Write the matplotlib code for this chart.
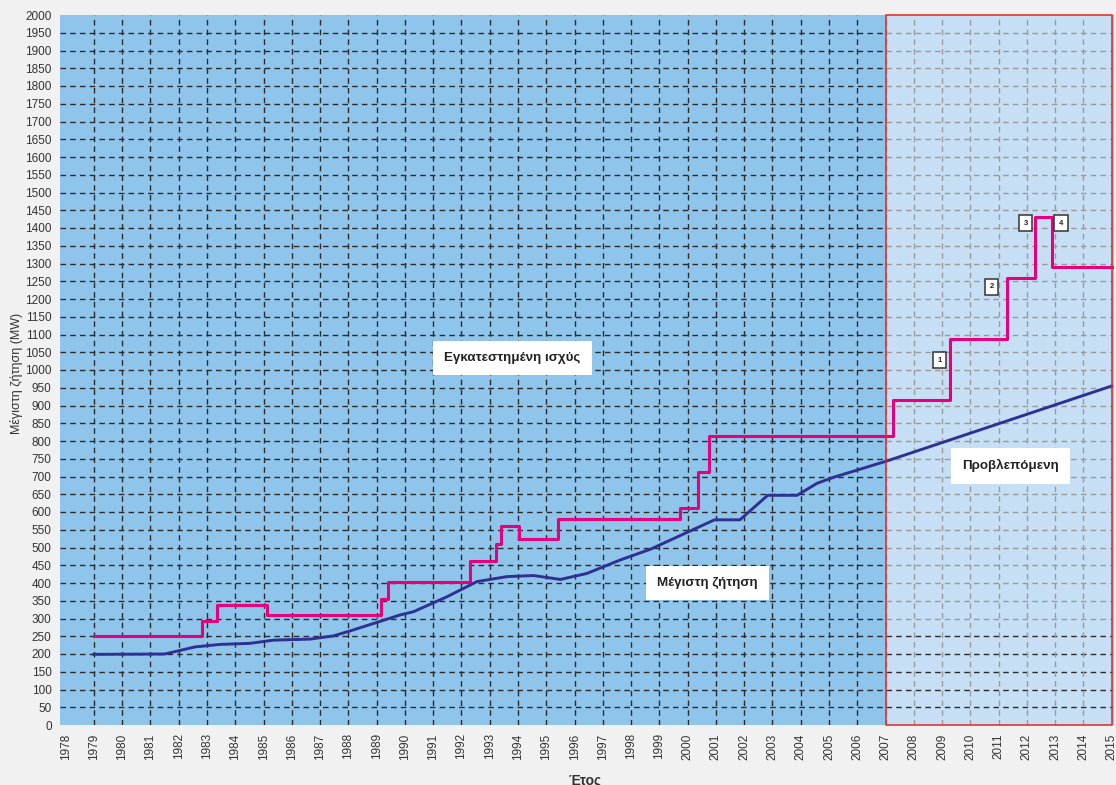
import numpy as np
import matplotlib
matplotlib.use("Agg")
from matplotlib import pyplot as plt
from matplotlib.patches import Rectangle

plt.rcParams['font.family'] = ['Liberation Sans', 'DejaVu Sans']

# installed capacity (step line, MW)
cap_years = [1979, 1982.81, 1983.34, 1985.11, 1989.16, 1989.40, 1992.31, 1993.23,
             1993.41, 1994.04, 1995.42, 1999.74, 2000.37, 2000.75, 2007.28, 2009.28,
             2011.31, 2012.30, 2012.90, 2015]
cap_mw = [250, 293, 338, 309, 356, 402, 462, 510, 561, 523, 580, 612, 713, 815,
          915, 1088, 1259, 1431, 1291, 1291]

# peak demand (MW)
dem_years = [1979, 1981.51, 1982.58, 1983.46, 1984.52, 1985.35, 1986.65, 1987.47,
             1988.06, 1989.01, 1989.83, 1990.30, 1991.48, 1992.55, 1993.61, 1994.55,
             1995.50, 1996.44, 1997.62, 1998.68, 2000.95, 2001.85, 2002.83, 2003.87,
             2004.58, 2005.17, 2007.06, 2015]
dem_mw = [199, 200, 220, 227, 230, 239, 242, 251, 265, 289, 310, 319, 361, 404,
          418, 421, 410, 427, 465, 495, 578, 578, 647, 647, 681, 698, 744, 955]

years = list(range(1978, 2016))
y_ticks = list(range(0, 2001, 50))
forecast_start, forecast_end = 2007, 2015

# numbered project markers (label, year, MW)
markers = [("1", 2008.91, 1028), ("2", 2010.75, 1234),
           ("3", 2011.96, 1414), ("4", 2013.20, 1414)]

main_blue = '#8fc4eb'
light_blue = '#c6dff4'
pink = '#e6007e'
navy = '#2e3192'

fig = plt.figure(figsize=(11.16, 7.85), dpi=100, facecolor='#f1f1f1')
ax = fig.add_axes([60 / 1116, 60 / 785, 1054 / 1116, 710 / 785])
ax.set_facecolor(main_blue)
ax.set_xlim(1977.8, 2015.08)
ax.set_ylim(0, 2000)

ax.axvspan(forecast_start, forecast_end, color=light_blue, zorder=0.5, lw=0)

# grid drawn by hand: dark in the history part, grey in the forecast part
dash = (0, (4, 3))
dark = '#2b2b2b'
gray = '#9a9a9a'
for y in y_ticks[1:-1]:
    ax.hlines(y, 1977.8, forecast_start, colors=dark, linestyles=dash, lw=1, zorder=1)
    ax.hlines(y, forecast_start, forecast_end, colors=(dark if y <= 250 else gray),
              linestyles=dash, lw=1, zorder=1)
for x in years[1:-1]:
    c = dark if x < forecast_start else gray
    ax.vlines(x, 0, 2000, colors=c, linestyles=dash, lw=1, zorder=1)

ax.step(cap_years, cap_mw, where='post', color=pink, lw=2.2, zorder=3)
ax.plot(dem_years, dem_mw, color=navy, lw=2.1, zorder=3)

ax.add_patch(Rectangle((forecast_start, 0), forecast_end - forecast_start, 2000,
                       fill=False, edgecolor='#e52521', lw=1.1, zorder=5, clip_on=False))

box = dict(facecolor='white', edgecolor='none', boxstyle='square,pad=0.85')
ax.text(1993.80, 1034, "Εγκατεστημένη ισχύς", ha='center', va='center',
        fontsize=9.6, fontweight='bold', color='#222222', bbox=box, zorder=4)
ax.text(2000.70, 400, "Μέγιστη ζήτηση", ha='center', va='center',
        fontsize=9.6, fontweight='bold', color='#222222', bbox=box, zorder=4)
ax.text(2011.42, 730, "Προβλεπόμενη", ha='center', va='center',
        fontsize=9.6, fontweight='bold', color='#222222', bbox=box, zorder=4)

for lab, xm, ym in markers:
    ax.text(xm, ym, lab, ha='center', va='center', fontsize=5.5, fontweight='bold',
            color='#222222', zorder=4,
            bbox=dict(facecolor='white', edgecolor='#333333', lw=1.1,
                      boxstyle='square,pad=0.6'))

ax.set_xticks(years)
ax.set_xticklabels([str(y) for y in years], rotation=90, fontsize=8.5, color='#333333')
ax.set_yticks(y_ticks)
ax.set_yticklabels([str(v) for v in y_ticks], fontsize=8.5, color='#333333')
ax.tick_params(axis='both', length=0)
ax.tick_params(axis='x', pad=6)
ax.tick_params(axis='y', pad=6)
for s in ax.spines.values():
    s.set_visible(False)

fig.text(17 / 1116, 1 - 373 / 785, "Μέγιστη ζήτηση (MW)", rotation=90,
         ha='center', va='center', fontsize=9, color='#333333')
fig.text(585 / 1116, 12 / 785, "Έτος", ha='center', va='top',
         fontsize=10, fontweight='bold', color='#333333')

fig.savefig('out.png', dpi=100, facecolor=fig.get_facecolor())
